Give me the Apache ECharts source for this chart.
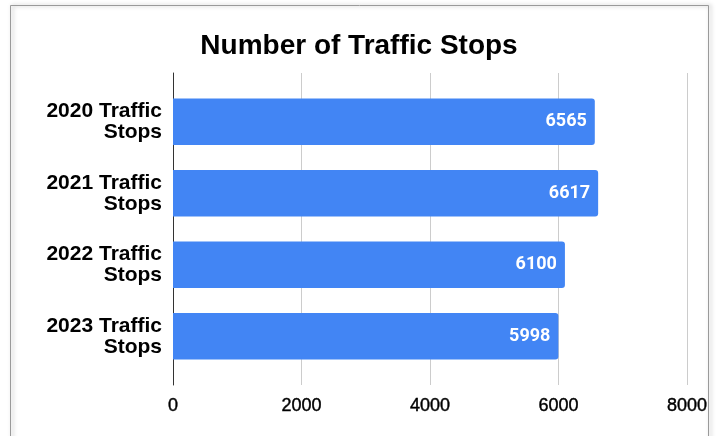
<!DOCTYPE html>
<html>
<head>
<meta charset="utf-8">
<script src="https://cdn.jsdelivr.net/npm/echarts@6/dist/echarts.min.js"></script>
<style>
  html, body { margin: 0; padding: 0; background: #fff; }
  #chart { width: 718px; height: 436px; }
</style>
</head>
<body>
<div id="chart"></div>
<script>
const categories = ['2020 Traffic\nStops', '2021 Traffic\nStops', '2022 Traffic\nStops', '2023 Traffic\nStops']
const stops = [6565, 6617, 6100, 5998]
const xTicks = [0, 2000, 4000, 6000, 8000]

const chart = echarts.init(document.getElementById('chart'))

const xMin = xTicks[0]
const xMax = xTicks[xTicks.length - 1]

const option = {
  animation: false,
  backgroundColor: '#fff',
  title: {
    text: 'Number of Traffic Stops',
    left: 'center',
    top: 27,
    textStyle: { fontFamily: 'Liberation Sans, Arial', fontSize: 28, fontWeight: 'bold', color: '#000' },
  },
  graphic: [{
    type: 'rect',
    shape: { x: 10.5, y: 5.5, width: 698, height: 460 },
    style: { fill: 'none', stroke: '#9a9a9a', lineWidth: 1, shadowColor: 'rgba(0,0,0,0.35)', shadowBlur: 4, shadowOffsetX: 2 },
    silent: true,
  }],
  // grid 0: gridlines, tick labels and the left axis line (taller than the bars)
  // grid 1: the bars themselves
  grid: [
    { left: 173, right: 31, top: 73, bottom: 51 },
    { left: 173, right: 31, top: 86, bottom: 64 },
  ],
  xAxis: [{
    gridIndex: 0,
    type: 'value',
    min: xMin,
    max: xMax,
    interval: 2000,
    axisLine: { show: false },
    axisTick: { show: false },
    splitLine: { lineStyle: { color: '#cccccc', width: 1 } },
    axisLabel: {
      margin: 12,
      color: '#000',
      fontFamily: 'Liberation Sans, Arial',
      fontSize: 18,
      textBorderColor: '#000',
      textBorderWidth: 0.4,
      formatter: v => String(v),
    },
  }, {
    gridIndex: 1,
    type: 'value',
    min: xMin,
    max: xMax,
    show: false,
  }],
  yAxis: [{
    gridIndex: 0,
    type: 'category',
    data: [''],
    axisLine: { show: true, lineStyle: { color: '#333', width: 1 } },
    axisTick: { show: false },
    axisLabel: { show: false },
  }, {
    gridIndex: 1,
    type: 'category',
    inverse: true,
    data: categories,
    axisLine: { show: false },
    axisTick: { show: false },
    axisLabel: {
      margin: 11,
      color: '#000',
      fontFamily: 'Liberation Sans, Arial',
      fontSize: 21,
      fontWeight: 'bold',
      lineHeight: 21,
      align: 'right',
    },
  }],
  series: [{
    type: 'bar',
    xAxisIndex: 1,
    yAxisIndex: 1,
    data: stops,
    barCategoryGap: '35%',
    itemStyle: { color: '#4285f4', borderRadius: [0, 3, 3, 0] },
    label: {
      show: true,
      position: 'insideRight',
      distance: 8,
      color: '#fff',
      fontFamily: 'Roboto',
      fontSize: 18,
      fontWeight: 'bold',
    },
  }],
}

chart.setOption(option)
</script>
</body>
</html>
